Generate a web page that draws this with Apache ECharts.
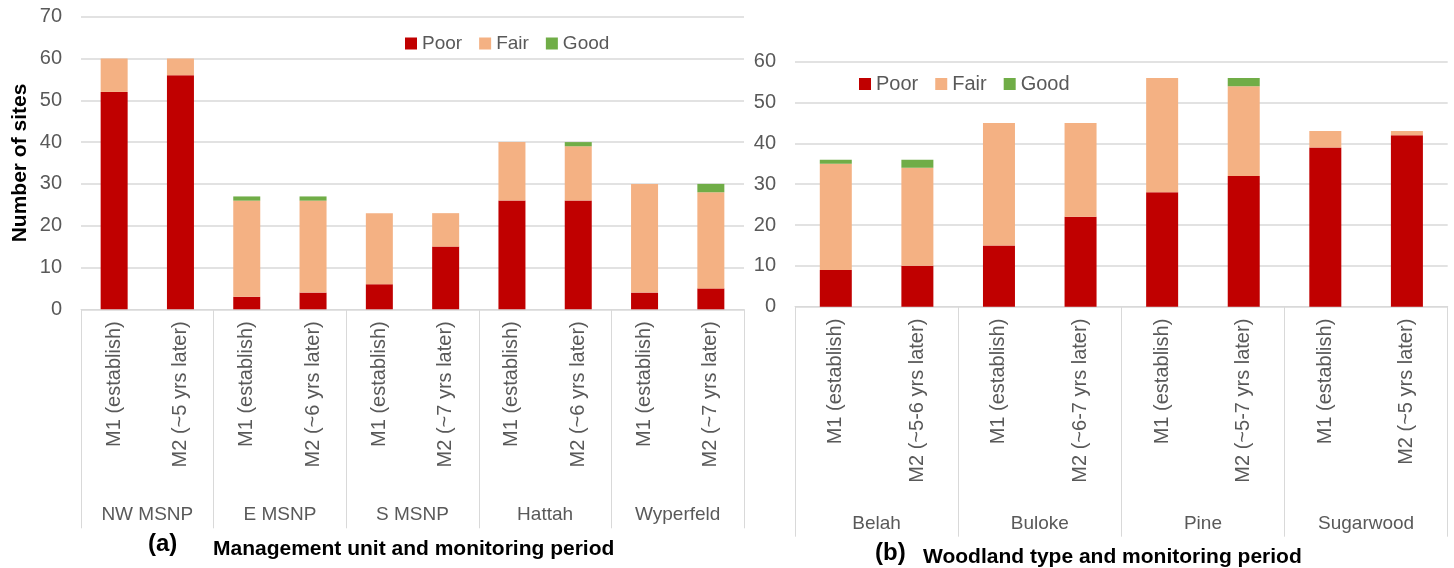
<!DOCTYPE html>
<html>
<head>
<meta charset="utf-8">
<script src="https://cdn.jsdelivr.net/npm/echarts@6/dist/echarts.min.js"></script>
<style>
html,body{margin:0;padding:0;background:#fff;}
#chart{width:1454px;height:568px;}
</style>
</head>
<body>
<div id="chart"></div>
<script>
// ---- Data: panel (a) ----
const aPeriods = ['M1 (establish)', 'M2 (~5 yrs later)', 'M1 (establish)', 'M2 (~6 yrs later)', 'M1 (establish)', 'M2 (~7 yrs later)', 'M1 (establish)', 'M2 (~6 yrs later)', 'M1 (establish)', 'M2 (~7 yrs later)'];
const aGroups = ['NW MSNP', 'E MSNP', 'S MSNP', 'Hattah', 'Wyperfeld'];
const aPoor = [52, 56, 3, 4, 6, 15, 26, 26, 4, 5];
const aFair = [8, 4, 23, 22, 17, 8, 14, 13, 26, 23];
const aGood = [0, 0, 1, 1, 0, 0, 0, 1, 0, 2];
const aYTicks = {min: 0, max: 70, interval: 10};

// ---- Data: panel (b) ----
const bPeriods = ['M1 (establish)', 'M2 (~5-6 yrs later)', 'M1 (establish)', 'M2 (~6-7 yrs later)', 'M1 (establish)', 'M2 (~5-7 yrs later)', 'M1 (establish)', 'M2 (~5 yrs later)'];
const bGroups = ['Belah', 'Buloke', 'Pine', 'Sugarwood'];
const bPoor = [9, 10, 15, 22, 28, 32, 39, 42];
const bFair = [26, 24, 30, 23, 28, 22, 4, 1];
const bGood = [1, 2, 0, 0, 0, 2, 0, 0];
const bYTicks = {min: 0, max: 60, interval: 10};

const seriesNames = ['Poor', 'Fair', 'Good'];
const colors = ['#C00000', '#F4B183', '#70AD47'];
const FONT = 'Liberation Sans';
const GREY = '#595959';
const LINE = '#D9D9D9';

const chart = echarts.init(document.getElementById('chart'), null, {renderer: 'canvas'});

function subAxis(gridIndex, data, margin) {
  return {
    type: 'category', gridIndex: gridIndex, data: data, position: 'bottom',
    axisLine: {show: true, lineStyle: {color: LINE, width: 1}},
    axisTick: {show: false},
    axisLabel: {rotate: 90, margin: margin, fontSize: 20, color: GREY, fontFamily: FONT, interval: 0},
    splitLine: {show: false}
  };
}
function groupAxis(gridIndex, data, tickLen, margin) {
  return {
    type: 'category', gridIndex: gridIndex, data: data, position: 'bottom',
    axisLine: {show: false},
    axisTick: {show: true, length: tickLen, lineStyle: {color: LINE, width: 1}},
    axisLabel: {margin: margin, fontSize: 19, color: GREY, fontFamily: FONT, interval: 0},
    splitLine: {show: false}
  };
}
function valAxis(gridIndex, t) {
  return {
    type: 'value', gridIndex: gridIndex, min: t.min, max: t.max, interval: t.interval,
    axisLine: {show: false}, axisTick: {show: false},
    axisLabel: {margin: 19, fontSize: 20, color: GREY, fontFamily: FONT},
    splitLine: {show: true, lineStyle: {color: LINE, width: 1.5}}
  };
}
function stackSeries(xIdx, yIdx, stack, arrays, barWidth) {
  return arrays.map((arr, i) => ({
    name: seriesNames[i], type: 'bar', stack: stack,
    xAxisIndex: xIdx, yAxisIndex: yIdx, barWidth: barWidth,
    itemStyle: {color: colors[i]},
    data: arr
  }));
}

const option = {
  animation: false,
  textStyle: {fontFamily: FONT},
  grid: [
    {left: 81, right: 710, top: 16.7, bottom: 258.7},
    {left: 795, right: 6.3, top: 61.7, bottom: 261.3}
  ],
  xAxis: [
    subAxis(0, aPeriods, 12),
    groupAxis(0, aGroups, 219, 196),
    subAxis(1, bPeriods, 12),
    groupAxis(1, bGroups, 230, 208)
  ],
  yAxis: [valAxis(0, aYTicks), valAxis(1, bYTicks)],
  legend: [
    {left: 405, top: 34, data: seriesNames, icon: 'rect', itemWidth: 12, itemHeight: 12, itemGap: 17,
     textStyle: {fontSize: 19, color: GREY, fontFamily: FONT}, padding: 0},
    {left: 859, top: 74, data: seriesNames, icon: 'rect', itemWidth: 12, itemHeight: 12, itemGap: 17,
     textStyle: {fontSize: 20, color: GREY, fontFamily: FONT}, padding: 0}
  ],
  title: [
    {text: '(a)', left: 148, top: 532, padding: 0, textStyle: {fontSize: 24, fontWeight: 'bold', color: '#000', fontFamily: FONT}},
    {text: 'Management unit and monitoring period', left: 213, top: 539, padding: 0, textStyle: {fontSize: 21, fontWeight: 'bold', color: '#000', fontFamily: FONT}},
    {text: '(b)', left: 875, top: 541, padding: 0, textStyle: {fontSize: 24, fontWeight: 'bold', color: '#000', fontFamily: FONT}},
    {text: 'Woodland type and monitoring period', left: 923, top: 547, padding: 0, textStyle: {fontSize: 21, fontWeight: 'bold', color: '#000', fontFamily: FONT}}
  ],
  graphic: [
    {type: 'text', x: 20, y: 163, rotation: Math.PI / 2,
     style: {text: 'Number of sites', fontSize: 21, fontWeight: 'bold', fontFamily: FONT, fill: '#000', align: 'center', verticalAlign: 'middle'}}
  ],
  series: [].concat(
    stackSeries(0, 0, 'a', [aPoor, aFair, aGood], 27),
    stackSeries(2, 1, 'b', [bPoor, bFair, bGood], 32)
  )
};
chart.setOption(option);
</script>
</body>
</html>
